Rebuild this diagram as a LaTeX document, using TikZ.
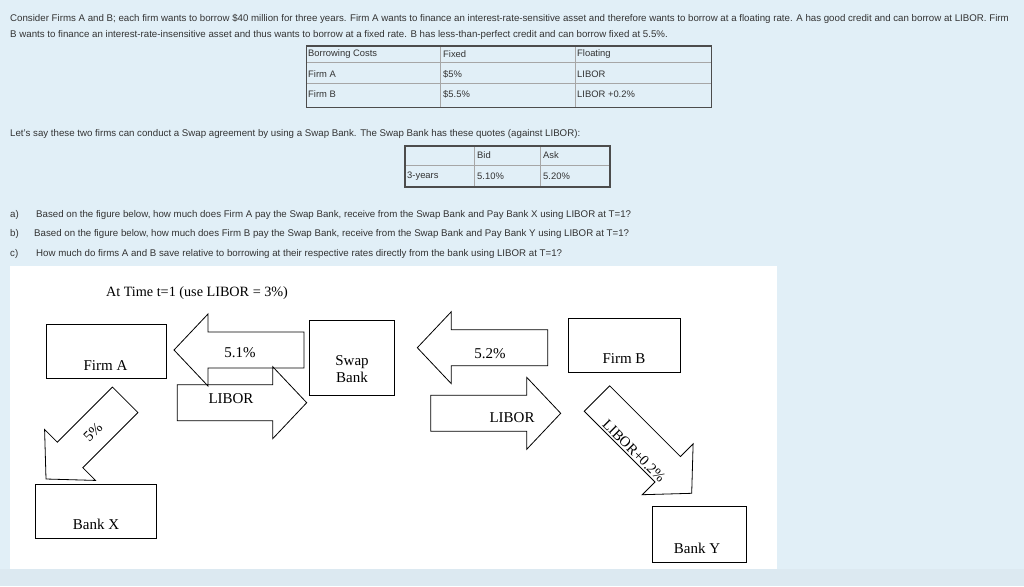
\documentclass[tikz,border=0pt]{standalone}
\usepackage{fontspec}
\setmainfont{Liberation Serif}
\setsansfont{Liberation Sans}
\usepackage{tikz}
\usetikzlibrary{positioning}
\definecolor{pagebg}{HTML}{E1EFF7}
\definecolor{stripbg}{HTML}{DCE9F1}
\definecolor{txtgray}{HTML}{333333}
\tikzset{
  introtext/.style={font=\sffamily\fontsize{9.7}{16}\selectfont,text=txtgray,anchor=west,inner sep=0pt,align=left},
  tabtext/.style={font=\sffamily\fontsize{9.4}{11}\selectfont,text=txtgray,anchor=west,inner sep=0pt},
  tabgrid/.style={draw=gray!70,line width=0.7pt},
  tabframe/.style={draw=black!70,line width=1.3pt},
  firmbox/.style={draw,line width=0.8pt,inner sep=0pt},
  boxlab/.style={font=\fontsize{15}{16.7}\selectfont,inner sep=0pt,align=center},
  blockarr/.style={draw,line width=0.8pt,line join=miter}
}
\newcommand{\blockarrow}[3]{%
  \draw[blockarr,shift={#1},rotate=#2] (0,0) -- (-34,36) -- (-34,18) -- (-#3,18)
    -- (-#3,-18) -- (-34,-18) -- (-34,-36) -- cycle;}

\begin{document}
\begin{tikzpicture}[x=1pt,y=-1pt]
  \fill[pagebg] (0,0) rectangle (1024,586);
  \useasboundingbox (0,0) rectangle (1024,586);
  \fill[stripbg] (0,569) rectangle (1024,586);
  % question text
  \node[introtext] (intro) at (10,27) {Consider Firms A and B; each firm wants to borrow \$40 million for three years. Firm A wants to finance an interest-rate-sensitive asset and therefore wants to borrow at a floating rate. A has good credit and can borrow at LIBOR. Firm\\
    B wants to finance an interest-rate-insensitive asset and thus wants to borrow at a fixed rate. B has less-than-perfect credit and can borrow fixed at 5.5\%.};
  % borrowing costs table
  \draw[tabgrid] (440,46) -- (440,107.3) (575,46) -- (575,107.3)
    (306.7,62.7) -- (711.7,62.7) (306.7,83.3) -- (711.7,83.3);
  \draw[tabframe] (306.7,46) rectangle (711.7,107.3);
  \node[tabtext] (c11) at (308,54.5) {Borrowing Costs};
  \node[tabtext] (c12) at (443,54.5) {Fixed};
  \node[tabtext] (c13) at (577,54.5) {Floating};
  \node[tabtext] (c21) at (308,74) {Firm A};
  \node[tabtext] (c22) at (443,74) {\$5\%};
  \node[tabtext] (c23) at (577,74) {LIBOR};
  \node[tabtext] (c31) at (308,94.5) {Firm B};
  \node[tabtext] (c32) at (443,94.5) {\$5.5\%};
  \node[tabtext] (c33) at (577,94.5) {LIBOR +0.2\%};
  \node[introtext] (swapintro) at (10,134) {Let's say these two firms can conduct a Swap agreement by using a Swap Bank. The Swap Bank has these quotes (against LIBOR):};
  % quotes table
  \draw[tabgrid] (474,146) -- (474,187) (540,146) -- (540,187) (405,165) -- (610,165);
  \draw[tabframe] (405,146) rectangle (610,187);
  \node[tabtext] (qbid) at (477,155) {Bid};
  \node[tabtext] (qask) at (543,155) {Ask};
  \node[tabtext] (qyrs) at (407,176) {3-years};
  \node[tabtext] (qbidv) at (477,176) {5.10\%};
  \node[tabtext] (qaskv) at (543,176) {5.20\%};
  % parts a) b) c)
  \node[introtext] (qa) at (10,214.5) {a)};
  \node[introtext] (qatxt) at (36,214.5) {Based on the figure below, how much does Firm A pay the Swap Bank, receive from the Swap Bank and Pay Bank X using LIBOR at T=1?};
  \node[introtext] (qb) at (10,234) {b)};
  \node[introtext] (qbtxt) at (34,234) {Based on the figure below, how much does Firm B pay the Swap Bank, receive from the Swap Bank and Pay Bank Y using LIBOR at T=1?};
  \node[introtext] (qc) at (10,253.5) {c)};
  \node[introtext] (qctxt) at (36,253.5) {How much do firms A and B save relative to borrowing at their respective rates directly from the bank using LIBOR at T=1?};
  % swap figure
  \fill[white] (10,266) rectangle (777,569);
  \node[font=\fontsize{14.2}{16}\selectfont,inner sep=0pt] (title) at (197,293) {At Time t=1 (use LIBOR = 3\%)};
  \node[firmbox,minimum width=120,minimum height=54] (firmA) at (106,351) {};
  \node[boxlab] (firmAlab) at (105.5,366) {Firm A};
  \node[firmbox,minimum width=85,minimum height=75] (swap) at (351.5,357.5) {};
  \node[boxlab] (swaplab) at (352,369) {Swap\\Bank};
  \node[firmbox,minimum width=112,minimum height=54] (firmB) at (624,345.5) {};
  \node[boxlab] (firmBlab) at (624,359) {Firm B};
  \node[firmbox,minimum width=121,minimum height=54] (bankX) at (96,511) {};
  \node[boxlab] (bankXlab) at (96,524) {Bank X};
  \node[firmbox,minimum width=94,minimum height=56] (bankY) at (699,534.7) {};
  \node[boxlab] (bankYlab) at (697,548) {Bank Y};
  \blockarrow{(174,350)}{180}{130}
  \blockarrow{(306.7,402.7)}{0}{129.4}
  \blockarrow{(417.3,347.7)}{180}{130.4}
  \blockarrow{(560.7,413.3)}{0}{130}
  \blockarrow{(46,479)}{225}{112}
  \blockarrow{(691.7,493.3)}{-45}{134}
  \node[boxlab] (payA) at (240,353) {5.1\%};
  \node[boxlab] (recA) at (231,399) {LIBOR};
  \node[boxlab] (recB) at (490,354) {5.2\%};
  \node[boxlab] (payB) at (512,418) {LIBOR};
  \node[boxlab,rotate=45] (payX) at (93,432) {5\%};
  \node[boxlab,font=\fontsize{14.5}{16}\selectfont,rotate=-45] (payY) at (634,451) {LIBOR+0.2\%};
\end{tikzpicture}
\end{document}
